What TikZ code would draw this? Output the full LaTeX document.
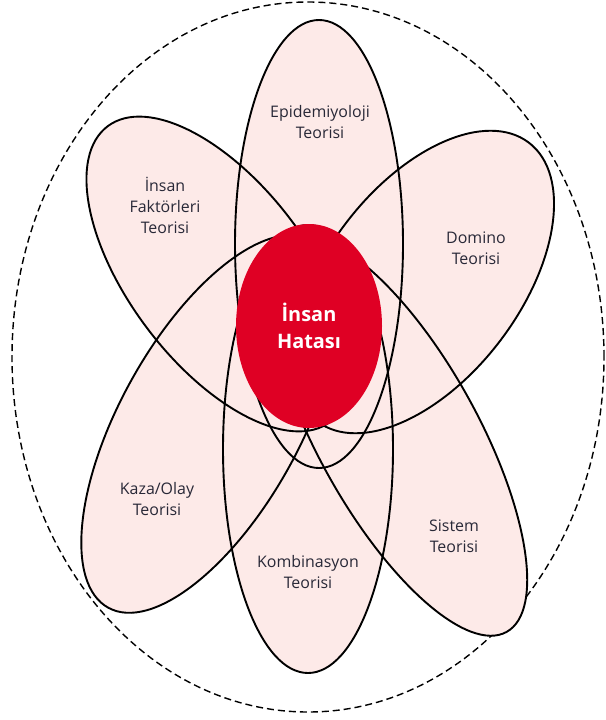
\documentclass[tikz,border=0pt]{standalone}
\usepackage{fontspec}
\setmainfont{Open Sans}
\usetikzlibrary{positioning,shapes.geometric}
\definecolor{petalpink}{RGB}{253,234,232}
\definecolor{hatared}{RGB}{223,0,36}
\definecolor{labelgray}{RGB}{40,40,55}
\tikzset{
petal/.style={
  fill=petalpink,
  }
}
\tikzset{
petalline/.style={
  line width=1.9bp,
  draw=black,
  }
}
\tikzset{
theory/.style={
  align=center,
  inner sep=0pt,
  text=labelgray,
  font=\fontsize{16}{21}\selectfont,
  }
}
\tikzset{
hatabox/.style={
  ellipse,
  inner sep=0pt,
  minimum width=146bp,
  minimum height=204bp,
  fill=hatared,
  text=white,
  align=center,
  font=\fontsize{20}{27}\selectfont\bfseries,
  }
}

\begin{document}
\begin{tikzpicture}[x=1bp,y=1bp]
    \useasboundingbox (0,0) rectangle (606,-720);

    % outer border
    \draw[dash pattern=on 7bp off 4bp, line width=1.4bp] (308,-357) circle [x radius=296, y radius=355];

    % petal centres
    \coordinate (epi) at (319,-244);
    \coordinate (komb) at (308,-449);
    \coordinate (insf) at (219,-274);
    \coordinate (dom) at (423,-282);
    \coordinate (kaza) at (210,-424);
    \coordinate (sis) at (398,-436);

    % petal fills
    \fill[petal] (epi) circle [x radius=84, y radius=224];
    \fill[petal] (komb) circle [x radius=85, y radius=224];
    \fill[petal] (insf) circle [x radius=185, y radius=90, rotate=-53];
    \fill[petal] (dom) circle [x radius=175, y radius=97, rotate=52.8];
    \fill[petal] (kaza) circle [x radius=210, y radius=90, rotate=61];
    \fill[petal] (sis) circle [x radius=224, y radius=80, rotate=-61];

    % petal outlines
    \draw[petalline] (epi) circle [x radius=84, y radius=224];
    \draw[petalline] (komb) circle [x radius=85, y radius=224];
    \draw[petalline] (insf) circle [x radius=185, y radius=90, rotate=-53];
    \draw[petalline] (dom) circle [x radius=175, y radius=97, rotate=52.8];
    \draw[petalline] (kaza) circle [x radius=210, y radius=90, rotate=61];
    \draw[petalline] (sis) circle [x radius=224, y radius=80, rotate=-61];

    % centre
    \node[hatabox] (hata) at (309,-326) {İnsan\\Hatası};

    % theory labels
    \node[theory] (epi_lbl) at (320,-122) {Epidemiyoloji\\Teorisi};
    \node[theory] (insf_lbl) at (165,-205) {İnsan\\Faktörleri\\Teorisi};
    \node[theory] (dom_lbl) at (476,-248) {Domino\\Teorisi};
    \node[theory] (kaza_lbl) at (157,-499) {Kaza/Olay\\Teorisi};
    \node[theory] (komb_lbl) at (308,-572) {Kombinasyon\\Teorisi};
    \node[theory] (sis_lbl) at (454,-536) {Sistem\\Teorisi};
\end{tikzpicture}
\end{document}
